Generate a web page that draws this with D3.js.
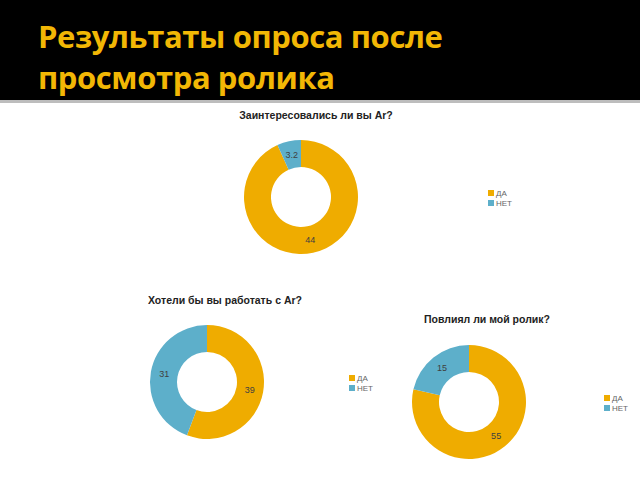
<!DOCTYPE html>
<html><head><meta charset="utf-8">
<script src="https://cdn.jsdelivr.net/npm/d3@7"></script>
<style>body{margin:0;background:#fff}svg{display:block}</style>
</head><body>
<script>
const pageTitle = ["Результаты опроса после", "просмотра ролика"];
const categories = ["ДА", "НЕТ"];
const chartTitles = ["Заинтересовались ли вы Ar?", "Хотели бы вы работать с Ar?", "Повлиял ли мой ролик?"];
const values1 = [44, 3.2];
const values2 = [39, 31];
const values3 = [55, 15];
const colors = ["#EFAC00", "#5DAFCA"];

const W = 640, H = 480;
const svg = d3.select("body").append("svg").attr("width", W).attr("height", H);

// header
svg.append("rect").attr("x", 0).attr("y", 0).attr("width", W).attr("height", 100).attr("fill", "#000");
svg.append("rect").attr("x", 0).attr("y", 100).attr("width", W).attr("height", 3).attr("fill", "#bdbdbd");
svg.selectAll("text.ptitle").data(pageTitle).join("text")
  .attr("x", 38).attr("y", (d, i) => 48 + i * 41)
  .attr("fill", "#F2B705").attr("font-family", "'Open Sans', 'Noto Sans', sans-serif")
  .attr("font-weight", "bold").attr("font-size", 31).attr("letter-spacing", -0.4)
  .text(d => d);

const charts = [
  { vals: values1, title: chartTitles[0], cx: 301, cy: 197, tx: 316, ty: 119, lx: 488, ly: 193 },
  { vals: values2, title: chartTitles[1], cx: 207, cy: 382, tx: 225, ty: 304, lx: 349, ly: 378 },
  { vals: values3, title: chartTitles[2], cx: 469, cy: 402, tx: 487, ty: 323, lx: 604, ly: 398 }
];

const color = d3.scaleOrdinal().domain(categories).range(colors);
const pie = d3.pie().sort(null).value(d => d.v);
const R = 57, r0 = 30;
const arc = d3.arc().innerRadius(r0).outerRadius(R);
const labelArc = d3.arc().innerRadius((R + r0) / 2).outerRadius((R + r0) / 2);

charts.forEach(c => {
  const data = categories.map((k, i) => ({ k, v: c.vals[i] }));
  const g = svg.append("g").attr("transform", `translate(${c.cx},${c.cy})`);
  const arcs = pie(data);
  g.selectAll("path").data(arcs).join("path")
    .attr("d", arc).attr("fill", d => color(d.data.k));
  g.selectAll("text").data(arcs).join("text")
    .attr("transform", d => `translate(${labelArc.centroid(d)})`)
    .attr("text-anchor", "middle").attr("dy", "0.35em")
    .attr("font-family", "'Liberation Sans', Arial, sans-serif").attr("font-size", 9)
    .attr("fill", "#404040").text(d => d.data.v);
  svg.append("text").attr("x", c.tx).attr("y", c.ty).attr("text-anchor", "middle")
    .attr("font-family", "'Liberation Sans', Arial, sans-serif").attr("font-size", 10.5)
    .attr("font-weight", "bold").attr("fill", "#222").text(c.title);
  const lg = svg.append("g").attr("transform", `translate(${c.lx},${c.ly})`);
  categories.forEach((k, i) => {
    lg.append("rect").attr("x", 0).attr("y", i * 10 - 3).attr("width", 6).attr("height", 6).attr("fill", color(k));
    lg.append("text").attr("x", 8).attr("y", i * 10).attr("dy", "0.35em")
      .attr("font-family", "'Liberation Sans', Arial, sans-serif").attr("font-size", 8)
      .attr("fill", "#666").text(k);
  });
});
</script>
</body></html>
